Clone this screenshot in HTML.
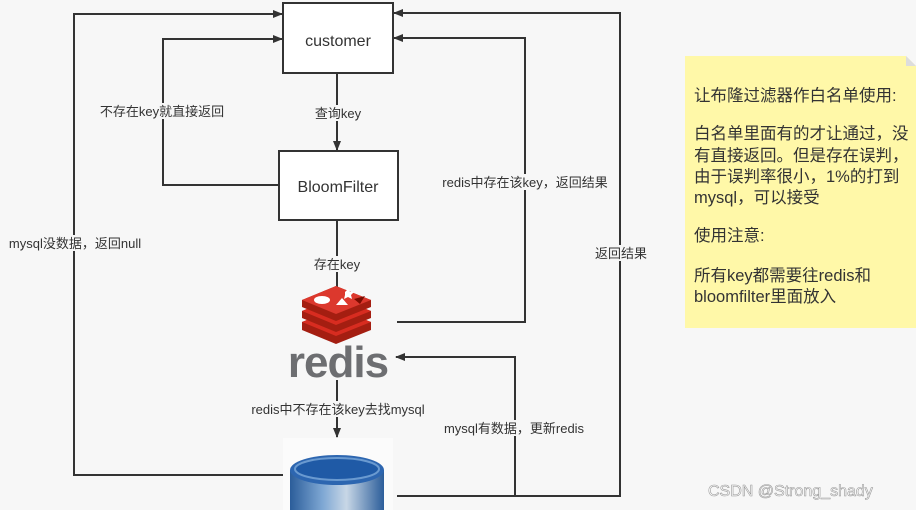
<!DOCTYPE html>
<html><head><meta charset="utf-8"><style>
html,body{margin:0;padding:0;background:#f7f7f7;}
svg{display:block}
text{font-family:"Liberation Sans","Noto Sans CJK SC",sans-serif;fill:#333}
</style></head><body>
<svg width="916" height="510" viewBox="0 0 916 510" xmlns="http://www.w3.org/2000/svg">
<defs>
<marker id="a" markerWidth="10" markerHeight="8" refX="9" refY="4" orient="auto" markerUnits="userSpaceOnUse">
<path d="M0,0 L10,4 L0,8 z" fill="#333"/></marker>
<linearGradient id="cyl" x1="0" x2="1"><stop offset="0" stop-color="#2b5d9a"/><stop offset="0.35" stop-color="#7fa8d4"/><stop offset="0.6" stop-color="#c8d7e6"/><stop offset="1" stop-color="#2b5d9a"/></linearGradient>
</defs>
<rect width="916" height="510" fill="#f7f7f7"/>
<g stroke="#333" stroke-width="2" fill="none">
<line x1="337" y1="73" x2="337" y2="150" marker-end="url(#a)"/>
<line x1="337" y1="220" x2="337" y2="297" marker-end="url(#a)"/>
<line x1="337" y1="380" x2="337" y2="437" marker-end="url(#a)"/>
<polyline points="279,185 163,185 163,39 282,39" marker-end="url(#a)"/>
<polyline points="283,475 74,475 74,14 282,14" marker-end="url(#a)"/>
<polyline points="397,322 525,322 525,38 394,38" marker-end="url(#a)"/>
<polyline points="397,496 620,496 620,13 394,13" marker-end="url(#a)"/>
<polyline points="397,496 515,496 515,357 396,357" marker-end="url(#a)"/>
</g>
<rect x="283" y="3" width="110" height="70" fill="#fff" stroke="#333" stroke-width="2"/>
<text x="338" y="46" font-size="16" text-anchor="middle">customer</text>
<rect x="279" y="151" width="119" height="69" fill="#fff" stroke="#333" stroke-width="2"/>
<text x="338" y="192" font-size="16" text-anchor="middle">BloomFilter</text>
<g font-size="13">
<rect x="312" y="105" width="52" height="16" fill="#f7f7f7"/>
<text x="338" y="118" text-anchor="middle">查询key</text>
<rect x="311" y="256" width="52" height="16" fill="#f7f7f7"/>
<text x="337" y="269" text-anchor="middle">存在key</text>
<rect x="96" y="103" width="132" height="16" fill="#f7f7f7"/>
<text x="162" y="116" text-anchor="middle">不存在key就直接返回</text>
<rect x="6" y="235" width="140" height="16" fill="#f7f7f7"/>
<text x="75" y="248" text-anchor="middle">mysql没数据，返回null</text>
<rect x="442" y="174" width="166" height="16" fill="#f7f7f7"/>
<text x="525" y="187" text-anchor="middle">redis中存在该key，返回结果</text>
<rect x="593" y="245" width="56" height="16" fill="#f7f7f7"/>
<text x="621" y="258" text-anchor="middle">返回结果</text>
<rect x="440" y="420" width="148" height="16" fill="#f7f7f7"/>
<text x="514" y="433" text-anchor="middle">mysql有数据，更新redis</text>
<rect x="248" y="401" width="180" height="16" fill="#f7f7f7"/>
<text x="338" y="414" text-anchor="middle">redis中不存在该key去找mysql</text>
</g>
<g>
<path d="M302,322 L336,308 L371,322 L371,330 L336,344 L302,330 z" fill="#a41e11"/>
<path d="M302,322 L336,336 L371,322 L336,308 z" fill="#d82c20"/>
<path d="M302,311 L336,297 L371,311 L371,318 L336,332 L302,318 z" fill="#a41e11"/>
<path d="M302,311 L336,325 L371,311 L336,297 z" fill="#d82c20"/>
<path d="M302,300 L336,286 L371,300 L371,307 L336,321 L302,307 z" fill="#a41e11"/>
<path d="M302,300 L336,314 L371,300 L336,286 z" fill="#dc382d"/>
<ellipse cx="322" cy="300" rx="8" ry="4" fill="#fff"/>
<path d="M336,305 L348,305 L342,298 z" fill="#fff"/>
<path d="M345,292 l3,-3 l2,3 l4,0 l-3,3 l1,4 l-4,-2 l-4,2 l1,-4 z" fill="#fff"/>
<path d="M354,299 L365,296 L360,304 z" fill="#7a0c00"/>
<text x="338" y="377" font-size="44" font-weight="bold" text-anchor="middle" style="fill:#6d6e71" letter-spacing="-1">redis</text>
</g>
<rect x="283" y="438" width="110" height="72" fill="#fbfbfb"/>
<path d="M290,470 L290,510 L384,510 L384,470 z" fill="url(#cyl)"/>
<ellipse cx="337" cy="470" rx="47" ry="15" fill="#2d66b0"/>
<ellipse cx="337" cy="469" rx="42" ry="11" fill="#1f5aa6" stroke="#6a9ad0" stroke-width="2"/>
<path d="M685,56 L906,56 L916,66 L916,328 L685,328 z" fill="#fff8a8"/>
<path d="M906,56 L906,66 L916,66 z" fill="#ddd"/>
<g font-size="16.5" style="fill:#333">
<text x="694" y="101">让布隆过滤器作白名单使用:</text>
<text x="694" y="139">白名单里面有的才让通过，没</text>
<text x="694" y="161">有直接返回。但是存在误判，</text>
<text x="694" y="182">由于误判率很小，1%的打到</text>
<text x="694" y="203">mysql，可以接受</text>
<text x="694" y="241">使用注意:</text>
<text x="694" y="281">所有key都需要往redis和</text>
<text x="694" y="302">bloomfilter里面放入</text>
</g>
<text x="708" y="496" font-size="16" style="fill:#fff;stroke:#999;stroke-width:0.6">CSDN @Strong_shady</text>
</svg>
</body></html>
